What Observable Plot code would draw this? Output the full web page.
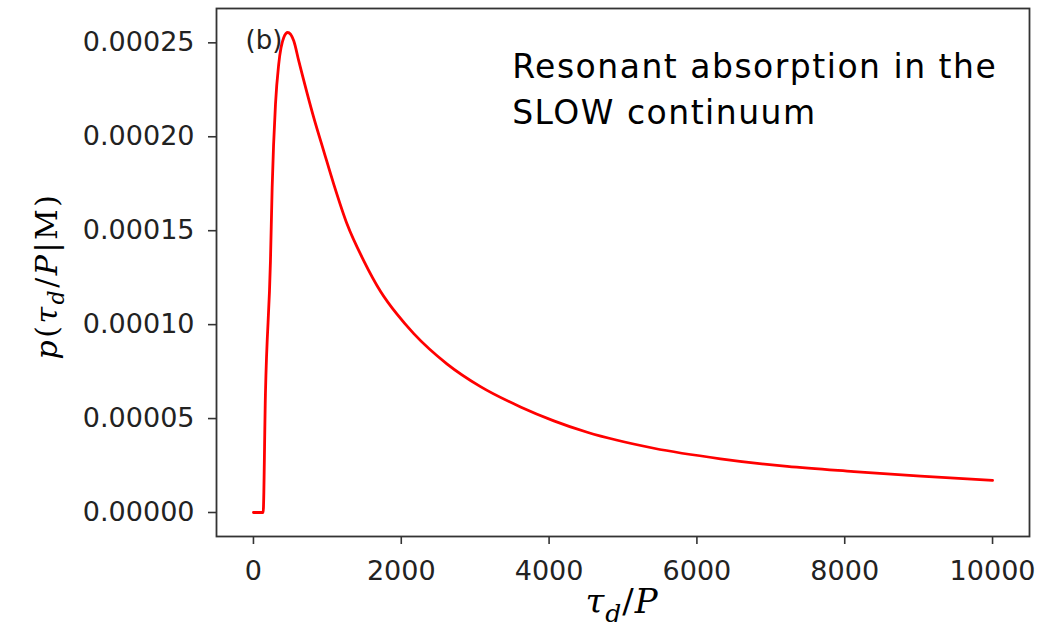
<!DOCTYPE html>
<html>
<head>
<meta charset="utf-8">
<script src="https://cdn.jsdelivr.net/npm/d3@7"></script>
<script src="https://cdn.jsdelivr.net/npm/@observablehq/plot@0.6"></script>
<style>
  html, body { margin: 0; padding: 0; background: #fff; }
  #chart svg { display: block; }
</style>
</head>
<body>
<div id="chart"></div>
<script>
// Data
const tau = [0, 131, 162, 230, 253, 298, 342, 410, 464, 545, 613, 816, 951, 1087, 1268, 1493, 1718, 1945, 2169, 2621, 3072, 3613, 4064, 4516, 5417, 6319, 7222, 8123, 9026, 10000];
const prob = [0, 0, 0.0000629, 0.0001338, 0.0001729, 0.0002173, 0.0002387, 0.0002528, 0.0002555, 0.0002511, 0.0002404, 0.0002102, 0.0001924, 0.0001747, 0.0001534, 0.0001340, 0.0001178, 0.0001054, 0.0000952, 0.0000790, 0.0000670, 0.0000562, 0.0000488, 0.0000427, 0.0000342, 0.0000286, 0.0000245, 0.0000218, 0.0000194, 0.0000171];
const xTicks = [0, 2000, 4000, 6000, 8000, 10000];
const yTicks = [0, 0.00005, 0.0001, 0.00015, 0.0002, 0.00025];
const panelLabel = ["(b)"];
const annotation = ["Resonant absorption in the\nSLOW continuum"];

const rows = tau.map((t, i) => ({tau: t, p: prob[i]}));

const xMin = d3.min(tau), xMax = d3.max(tau);
const yMin = d3.min(prob), yMax = d3.max(prob);
const xPad = (xMax - xMin) * 0.05, yPad = (yMax - yMin) * 0.05;

const chart = Plot.plot({
  width: 1044,
  height: 638,
  marginLeft: 216,
  marginRight: 15,
  marginTop: 8,
  marginBottom: 102,
  style: {fontFamily: "DejaVu Sans", fontSize: "27px", color: "#222", background: "#fff"},
  x: {domain: [xMin - xPad, xMax + xPad]},
  y: {domain: [yMin - yPad, yMax + yPad]},
  marks: [
    Plot.axisX({ticks: xTicks, tickFormat: d => String(d), tickSize: 8, tickPadding: 16, label: null, stroke: "#333", strokeWidth: 1.6}),
    Plot.axisY({ticks: yTicks, tickFormat: d3.format(".5f"), tickSize: 8, tickPadding: 14, label: null, stroke: "#333", strokeWidth: 1.6}),
    Plot.line(rows, {x: "tau", y: "p", stroke: "#ff0000", strokeWidth: 2.8, curve: "monotone-x"}),
    Plot.frame({stroke: "#333", strokeWidth: 1.8}),
    Plot.text(panelLabel, {text: d => d, frameAnchor: "top-left", textAnchor: "start", lineAnchor: "top", dx: 29, dy: 22, fontSize: 26, fill: "#222"}),
    Plot.text(annotation, {text: d => d, x: 3500, y: 0.0002483, textAnchor: "start", lineAnchor: "top", fontSize: 33, lineHeight: 1.376, fill: "#000"})
  ]
});

document.getElementById("chart").appendChild(chart);

const svg = d3.select(chart);

// widen the annotation to the hand-drawn look of the original
svg.selectAll("text").filter(function () { return this.textContent.startsWith("Resonant"); })
  .attr("letter-spacing", "1.5px");

// Math-style axis titles with subscripts
const yl = svg.append("text")
  .attr("transform", "translate(57,276) rotate(-90)")
  .attr("text-anchor", "middle")
  .attr("font-family", "DejaVu Serif")
  .attr("font-size", 30)
  .attr("letter-spacing", "2.5px")
  .attr("fill", "#000");
yl.append("tspan").attr("font-style", "italic").text("p");
yl.append("tspan").text("(");
yl.append("tspan").attr("font-style", "italic").text("τ");
yl.append("tspan").attr("font-style", "italic").attr("font-size", 22).attr("dy", 7).text("d");
yl.append("tspan").attr("dy", -7).text("/");
yl.append("tspan").attr("font-style", "italic").text("P");
yl.append("tspan").text("|M)");

const xl = svg.append("text")
  .attr("x", 622)
  .attr("y", 613)
  .attr("text-anchor", "middle")
  .attr("font-family", "DejaVu Serif")
  .attr("font-size", 34)
  .attr("letter-spacing", "1px")
  .attr("fill", "#000");
xl.append("tspan").attr("font-style", "italic").text("τ");
xl.append("tspan").attr("font-style", "italic").attr("font-size", 25).attr("dy", 9).text("d");
xl.append("tspan").attr("dy", -9).text("/");
xl.append("tspan").attr("font-style", "italic").text("P");
</script>
</body>
</html>
